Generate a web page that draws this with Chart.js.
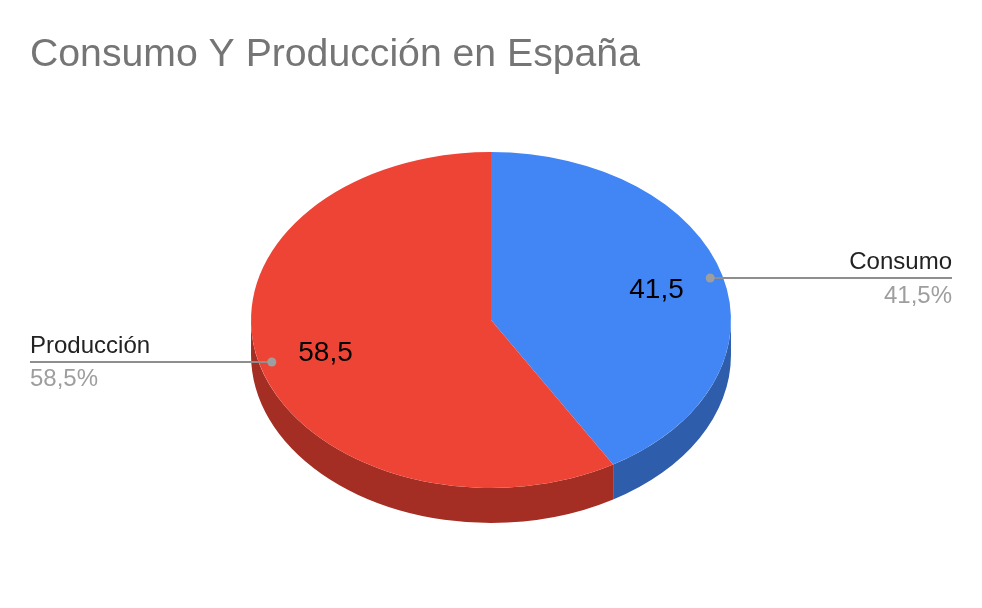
<!DOCTYPE html>
<html>
<head>
<meta charset="utf-8">
<title>Consumo Y Producción en España</title>
<script src="https://cdn.jsdelivr.net/npm/chart.js@4"></script>
<style>
html,body{margin:0;padding:0;background:#fff}
canvas{display:block}
</style>
</head>
<body>
<canvas id="pieChart" width="982" height="608"></canvas>
<script>

const titleText = "Consumo Y Producción en España"
const categories = ["Consumo","Producción"]
const values = [41.5,58.5]
const topColors = ["#4285f4","#ee4436"]
const sideColors = ["#2e5dab","#a52e24"]

const squash = 0.7   // ellipse height / width
const depth = 35     // thickness of the pie in px
const fontName = "'Liberation Sans', Arial, sans-serif"

function tilt(ctx,chart){
const cy = (chart.chartArea.top + chart.chartArea.bottom) / 2
ctx.translate(0,cy)
ctx.scale(1,squash)
ctx.translate(0,-cy)
}

/* point on the tilted pie, f = fraction of radius */
function piePoint(arc,f){
const mid = (arc.startAngle + arc.endAngle) / 2
return {
x: arc.x + Math.cos(mid) * arc.outerRadius * f,
y: arc.y + Math.sin(mid) * arc.outerRadius * f * squash
}
}

const tiltPlugin = {
id:"tilt",

beforeDatasetsDraw(chart){
const ctx = chart.ctx
const arcs = chart.getDatasetMeta(0).data

/* side wall: only the front half of each slice's rim is visible */
arcs.forEach((arc,i)=>{
const from = Math.max(arc.startAngle,0)
const to = Math.min(arc.endAngle,Math.PI)
if(to <= from) return
const rx = arc.outerRadius
const ry = arc.outerRadius * squash
ctx.fillStyle = sideColors[i]
ctx.beginPath()
ctx.ellipse(arc.x,arc.y,rx,ry,0,from,to)
ctx.ellipse(arc.x,arc.y+depth,rx,ry,0,to,from,true)
ctx.closePath()
ctx.fill()
})

ctx.save()
tilt(ctx,chart)
},

afterDatasetsDraw(chart){
const ctx = chart.ctx
const arcs = chart.getDatasetMeta(0).data
const total = values.reduce((a,b)=>a+b,0)

ctx.restore()

arcs.forEach((arc,i)=>{
const dot = piePoint(arc,0.947)
const inner = piePoint(arc,0.715)
const right = dot.x > arc.x
const edge = right ? 952 : 30

/* leader line */
ctx.strokeStyle = "#8e8e8e"
ctx.lineWidth = 2
ctx.beginPath()
ctx.moveTo(dot.x,dot.y)
ctx.lineTo(edge,dot.y)
ctx.stroke()

ctx.fillStyle = "#9e9e9e"
ctx.beginPath()
ctx.arc(dot.x,dot.y,4.5,0,Math.PI*2)
ctx.fill()

/* outside labels */
ctx.textAlign = right ? "right" : "left"
ctx.textBaseline = "alphabetic"
ctx.font = "24px " + fontName
ctx.fillStyle = "#222222"
ctx.fillText(categories[i],edge,dot.y-9)
ctx.fillStyle = "#9e9e9e"
ctx.fillText((values[i]/total*100).toFixed(1).replace(".",",")+"%",edge,dot.y+24.5)

/* value inside the slice */
ctx.textAlign = "center"
ctx.textBaseline = "middle"
ctx.font = "28px " + fontName
ctx.fillStyle = "#000000"
ctx.fillText(values[i].toFixed(1).replace(".",","),inner.x,inner.y+1.5)
})
}
}

new Chart(document.getElementById("pieChart"),{
type:"pie",

data:{
labels:categories,
datasets:[{
data:values,
backgroundColor:topColors,
borderWidth:0
}]
},

options:{
responsive:false,
animation:false,
layout:{
padding:{left:30,right:30,top:0,bottom:48}
},
plugins:{
legend:{display:false},
tooltip:{enabled:false},
title:{
display:true,
text:titleText,
align:"start",
color:"#757575",
font:{family:fontName,size:39.2,weight:"normal"},
padding:{top:32,bottom:1}
}
}
},

plugins:[tiltPlugin]
})

</script>
</body>
</html>
